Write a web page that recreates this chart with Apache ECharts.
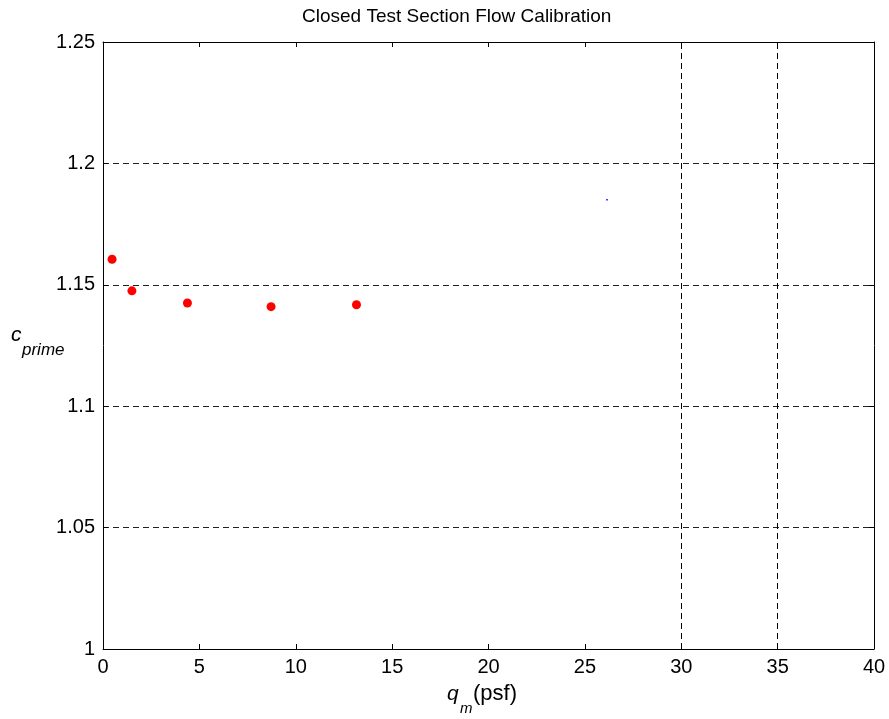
<!DOCTYPE html>
<html>
<head>
<meta charset="utf-8">
<script src="https://cdn.jsdelivr.net/npm/echarts@6/dist/echarts.min.js"></script>
<style>
  html, body { margin: 0; padding: 0; background: #fff; }
  #main { width: 889px; height: 719px; }
</style>
</head>
<body>
<div id="main"></div>
<script>
// calibration points
const qm = [0.47, 1.5, 4.38, 8.72, 13.15];
const cPrime = [1.1605, 1.1475, 1.1425, 1.141, 1.1418];
// stray single pixel marker seen in the figure
const strayPoint = [[26.15, 1.185]];
const xGridAt = [30, 35];

const FONT = 'Liberation Sans, Arial, sans-serif';

const chart = echarts.init(document.getElementById('main'));

const dashed = [6, 4];

function boxAxis(extra) {
  return Object.assign({
    type: 'value',
    axisLine: { show: true, onZero: false, lineStyle: { color: '#000', width: 1 } },
    axisTick: { show: true, inside: true, length: 5, lineStyle: { color: '#000' } },
    splitLine: { show: false }
  }, extra);
}

let option = {
  animation: false,
  title: {
    text: 'Closed Test Section Flow Calibration',
    left: 297,
    top: 2,
    textStyle: { fontFamily: FONT, fontWeight: 'normal', fontSize: 19, color: '#000' }
  },
  grid: { left: 103, right: 15, top: 42, bottom: 70 },
  xAxis: [
    boxAxis({
      min: 0, max: 40, interval: 5,
      axisLabel: { color: '#000', fontFamily: FONT, fontSize: 20, margin: 8 }
    }),
    boxAxis({
      position: 'top',
      min: 0, max: 40, interval: 5,
      axisLabel: { show: false }
    })
  ],
  yAxis: [
    boxAxis({
      min: 1, max: 1.25, interval: 0.05,
      axisLabel: { color: '#000', fontFamily: FONT, fontSize: 20, margin: 8 },
      splitLine: { show: true, lineStyle: { color: '#222', type: dashed, width: 1 } }
    }),
    boxAxis({
      position: 'right',
      min: 1, max: 1.25, interval: 0.05,
      axisLabel: { show: false }
    })
  ],
  graphic: [
    { type: 'text', left: 11, top: 325,
      style: { text: 'c', font: 'italic 21px ' + FONT, fill: '#000' } },
    { type: 'text', left: 22, top: 342,
      style: { text: 'prime', font: 'italic 17px ' + FONT, fill: '#000' } },
    { type: 'text', left: 447, top: 684,
      style: { text: 'q', font: 'italic 21px ' + FONT, fill: '#000' } },
    { type: 'text', left: 460, top: 701,
      style: { text: 'm', font: 'italic 15px ' + FONT, fill: '#000' } },
    { type: 'text', left: 473, top: 683,
      style: { text: '(psf)', font: '22px ' + FONT, fill: '#000' } }
  ],
  series: [
    {
      type: 'scatter',
      data: qm.map((q, i) => [q, cPrime[i]]),
      symbol: 'circle',
      symbolSize: 9,
      itemStyle: { color: '#ff0000', opacity: 1 },
      z: 5,
      markLine: {
        silent: true,
        symbol: ['none', 'none'],
        label: { show: false },
        lineStyle: { color: '#000', type: dashed, width: 1 },
        data: xGridAt.map(v => ({ xAxis: v }))
      }
    },
    {
      type: 'scatter',
      data: strayPoint,
      symbol: 'rect',
      symbolSize: 1.5,
      itemStyle: { color: '#0000ff', opacity: 1 }
    }
  ]
};

chart.setOption(option);
</script>
</body>
</html>
